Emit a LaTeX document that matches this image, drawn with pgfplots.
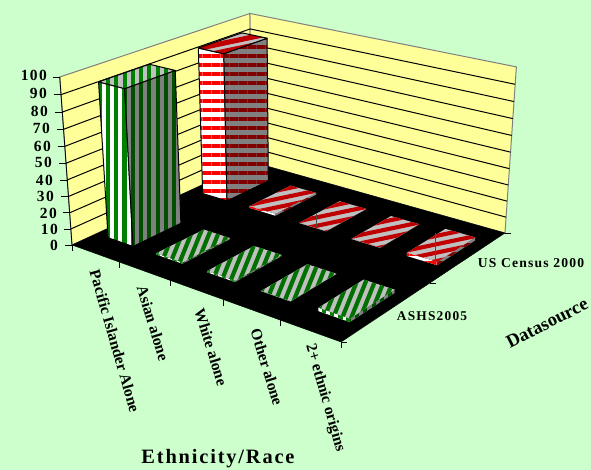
\documentclass[border=0pt]{standalone}
\usepackage{fontspec}
\setmainfont{Liberation Serif}
\newfontfamily\spaced[LetterSpace=9]{Liberation Serif}
\usepackage{pgfplots}
\pgfplotsset{compat=1.18}
\usetikzlibrary{patterns.meta}
\definecolor{pagegreen}{HTML}{CCFFCC}
\definecolor{wallyellow}{HTML}{FFFF99}
\definecolor{edgegray}{HTML}{808080}
\definecolor{topgray}{HTML}{C0C0C0}
\definecolor{barred}{HTML}{FF0000}
\definecolor{topred}{HTML}{C00000}
\definecolor{darkred}{HTML}{800000}
\definecolor{bargreen}{HTML}{007000}
\definecolor{frontgreen}{HTML}{008000}
\definecolor{darkgreen}{HTML}{005000}
% Perspective projection of chart space (u along categories, v along series,
% z in percent) to the drawing plane.
\pgfplotsset{
  table/proj/.style={
    x expr={(221.69*\thisrow{u}+218.6*\thisrow{v}+72-15.37*\thisrow{z}/100)/(1-0.13875*\thisrow{u}+0.15318*\thisrow{v}-0.0521*\thisrow{z}/100)},
    y expr={(49.55*\thisrow{u}-58.18*\thisrow{v}+245-172*\thisrow{z}/100)/(1-0.13875*\thisrow{u}+0.15318*\thisrow{v}-0.0521*\thisrow{z}/100)}},
  table/projt/.style={
    x expr={(221.69*\thisrow{u}+218.6*\thisrow{v}+72-15.37*\thisrow{z}/100)/(1-0.13875*\thisrow{u}+0.15318*\thisrow{v}-0.0521*\thisrow{z}/100)+\thisrow{dx}},
    y expr={(49.55*\thisrow{u}-58.18*\thisrow{v}+245-172*\thisrow{z}/100)/(1-0.13875*\thisrow{u}+0.15318*\thisrow{v}-0.0521*\thisrow{z}/100)+\thisrow{dy}}},
}
\newif\ifinstripes
\tikzset{
  gfront/.style={pattern={Lines[angle=90,distance=8.3pt,line width=4.4pt]},pattern color=frontgreen},
  gside/.style={pattern={Lines[angle=90,distance=8.3pt,line width=4pt]},pattern color=darkgreen},
  gtop/.style={pattern={Lines[angle=90,distance=8.3pt,line width=4pt]},pattern color=frontgreen},
  rfront/.style={pattern={Lines[angle=0,distance=9pt,line width=4.5pt]},pattern color=barred},
  rside/.style={pattern={Lines[angle=0,distance=9pt,line width=4.5pt]},pattern color=darkred},
  % slanted stripes on the flat tops, laid out from the centre of each face
  gflat/.style={path picture={\ifinstripes\else\instripestrue
    \begin{scope}[shift={(path picture bounding box.center)}]
      \foreach \i in {-8,...,8}
        \fill[bargreen] ({\i*9pt-16.2pt},-40pt) -- ({\i*9pt-11.7pt},-40pt)
          -- ({\i*9pt+20.7pt},40pt) -- ({\i*9pt+16.2pt},40pt) -- cycle;
    \end{scope}\fi}},
  rflat/.style={path picture={\ifinstripes\else\instripestrue
    \begin{scope}[shift={(path picture bounding box.center)}]
      \foreach \i in {-8,...,8}
        \fill[topred] (-60pt,{\i*8.4pt-12.6pt}) -- (60pt,{\i*8.4pt+12.6pt})
          -- (60pt,{\i*8.4pt+16.8pt}) -- (-60pt,{\i*8.4pt-8.4pt}) -- cycle;
    \end{scope}\fi}},
}
% One patterned quadrilateral: base colour, stripe style, edge colour, four corners.
\newcommand{\quadface}[7]{%
  \addplot[fill=#1,draw=none] table[proj,row sep=\\]{u v z\\#4\\#5\\#6\\#7\\};
  \addplot[#2,draw=#3,line width=1pt,line join=round] table[proj,row sep=\\]{u v z\\#4\\#5\\#6\\#7\\#4\\};
}
% One column: u0 u1 v0 v1 value, front style, side style, top style, edge colour.
\newcommand{\column}[9]{%
  \quadface{white}{#6}{#9}{#1 #3 0}{#2 #3 0}{#2 #3 #5}{#1 #3 #5}
  \quadface{edgegray}{#7}{#9}{#2 #3 0}{#2 #4 0}{#2 #4 #5}{#2 #3 #5}
  \quadface{topgray}{#8}{#9}{#1 #3 #5}{#2 #3 #5}{#2 #4 #5}{#1 #4 #5}
}
\newcommand{\censusbar}[3]{\column{#1}{#2}{0.63}{0.88}{#3}{rfront}{rside}{rflat}{none}}
\newcommand{\ashsbar}[3]{\column{#1}{#2}{0.12}{0.37}{#3}{gfront}{gside}{gflat}{none}}
\newcommand{\lab}[1]{\fontsize{#1}{#1}\selectfont\bfseries}
\begin{document}
\begin{tikzpicture}
\useasboundingbox (0,0) rectangle (591pt,470pt);
\begin{axis}[
  anchor=south west, at={(0,0)},
  hide axis, scale only axis, width=591pt, height=470pt,
  xmin=0, xmax=591, ymin=0, ymax=470, y dir=reverse,
  clip=true, axis on top=false]
% page background
\addplot[fill=pagegreen,draw=none] coordinates {(0,0) (591,0) (591,470) (0,470)};
% side and back walls
\addplot[fill=wallyellow,draw=edgegray,line width=1pt] table[proj,row sep=\\]{u v z\\0 0 0\\0 1 0\\0 1 100\\0 0 100\\0 0 0\\};
\addplot[fill=wallyellow,draw=edgegray,line width=1pt] table[proj,row sep=\\]{u v z\\0 1 0\\1 1 0\\1 1 100\\0 1 100\\0 1 0\\};
% gridlines
\pgfplotsinvokeforeach{10,20,30,40,50,60,70,80,90}{
  \addplot[black,line width=1pt] table[proj,row sep=\\]{u v z\\0 0 #1\\0 1 #1\\1 1 #1\\};
}
% floor
\addplot[fill=black,draw=black] table[proj,row sep=\\]{u v z\\0 0 0\\1 0 0\\1 1 0\\0 1 0\\0 0 0\\};
% value axis and its ticks
\addplot[black,line width=0.8pt] table[proj,row sep=\\]{u v z\\0 0 0\\0 0 100\\};
\pgfplotsinvokeforeach{0,10,20,30,40,50,60,70,80,90,100}{
  \addplot[black,line width=0.8pt] table[projt,row sep=\\]{u v z dx dy\\0 0 #1 -7 0\\0 0 #1 0 0\\};
}
% category ticks
\pgfplotsinvokeforeach{0,0.2,0.4,0.6,0.8,1}{
  \addplot[black,line width=0.6pt] table[projt,row sep=\\]{u v z dx dy\\#1 0 0 0 0\\#1 0 0 0 6\\};
}
% series ticks
\pgfplotsinvokeforeach{0,0.5,1}{
  \addplot[black,line width=0.6pt] table[projt,row sep=\\]{u v z dx dy\\1 #1 0 0 0\\1 #1 0 6 0\\};
}
% US Census 2000
\column{0.05}{0.155}{0.63}{0.88}{93.5}{rfront}{rside}{rflat}{black}
\censusbar{0.25}{0.355}{1.2}
\censusbar{0.45}{0.555}{0.2}
\censusbar{0.65}{0.755}{0.2}
\censusbar{0.85}{0.955}{2}
% hairlines across two of the flat tops
\addplot[draw=black!70,line width=0.4pt] coordinates {(316,213) (316,227)};
\addplot[draw=black!70,line width=0.4pt] coordinates {(435,233) (435,262)};
% ASHS2005
\column{0.05}{0.155}{0.12}{0.37}{94}{gfront}{gside}{gtop}{black}
\ashsbar{0.25}{0.355}{0.8}
\ashsbar{0.45}{0.555}{0.8}
\ashsbar{0.65}{0.755}{0.2}
\ashsbar{0.85}{0.955}{2}
% value labels
\tikzset{vlab/.style={anchor=east,inner sep=0pt,font=\spaced\lab{15.5}}}
\node[vlab] at (axis cs:47,75) {100};
\node[vlab] at (axis cs:47,93) {90};
\node[vlab] at (axis cs:48,111) {80};
\node[vlab] at (axis cs:50,128) {70};
\node[vlab] at (axis cs:51,146) {60};
\node[vlab] at (axis cs:52,162) {50};
\node[vlab] at (axis cs:53,180) {40};
\node[vlab] at (axis cs:54,196) {30};
\node[vlab] at (axis cs:57,213) {20};
\node[vlab] at (axis cs:58,229) {10};
\node[vlab] at (axis cs:58,245) {0};
% category labels
\node[rotate=-74,font=\lab{15.6}] at (axis cs:115,341) {Pacific Islander Alone};
\node[rotate=-73,font=\lab{15.6}] at (axis cs:153,323) {Asian alone};
\node[rotate=-73,font=\lab{15.6}] at (axis cs:211,347) {White alone};
\node[rotate=-73,font=\lab{15.6}] at (axis cs:267,367) {Other alone};
\node[rotate=-74,font=\lab{15.6}] at (axis cs:325,398) {2+ ethnic origins};
% series labels
\node[font=\spaced\lab{13.6}] at (axis cs:531,263) {US Census 2000};
\node[font=\spaced\lab{13.4}] at (axis cs:432,316) {ASHS2005};
% axis titles
\node[rotate=27,font=\lab{18.5}] at (axis cs:547,323) {Datasource};
\node[font=\spaced\lab{20.4}] at (axis cs:218,459) {Ethnicity/Race};
\end{axis}
\end{tikzpicture}
\end{document}
